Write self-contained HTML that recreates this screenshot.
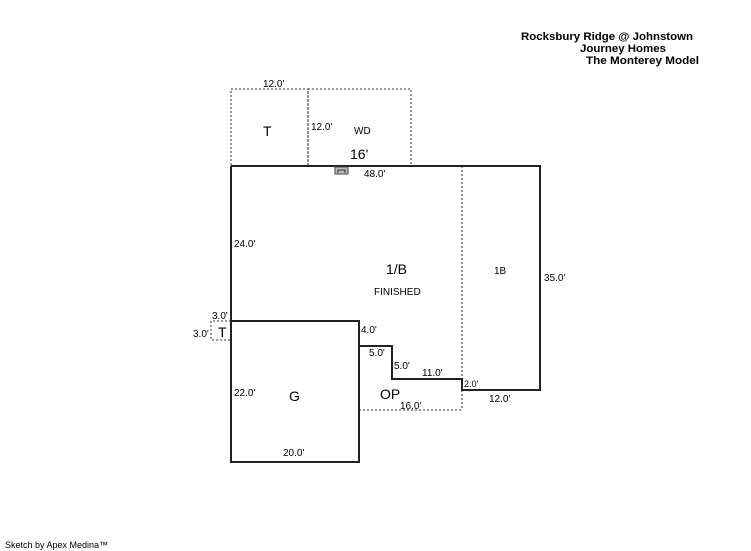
<!DOCTYPE html>
<html><head><style>
body{margin:0;background:#fff;}
svg{display:block;font-family:"Liberation Sans",Arial,sans-serif;}
</style></head><body>
<svg width="751" height="551" viewBox="0 0 751 551" xmlns="http://www.w3.org/2000/svg">
<rect width="751" height="551" fill="#fff"/>
<g fill="none" stroke="#777" stroke-width="1.5" stroke-dasharray="2,2">
<rect x="231" y="89" width="77" height="77"/>
<rect x="308" y="89" width="103" height="77"/>
<line x1="462" y1="166" x2="462" y2="410"/>
<polyline points="359,410 462,410"/>
<polyline points="231,321 211,321 211,340 231,340"/>
</g>
<g fill="none" stroke="#222" stroke-width="2">
<polyline points="231,166 540,166 540,390 462,390 462,379 392,379 392,346 359,346 359,321 231,321 231,166"/>
<rect x="231" y="321" width="128" height="141"/>
</g>
<rect x="335" y="167" width="13" height="7" fill="#bbb" stroke="#444" stroke-width="1"/>
<path d="M338 173 v-3 h7 v3" fill="none" stroke="#333" stroke-width="1"/>
<g font-size="10" fill="#000">
<text x="263" y="87">12.0'</text>
<text x="311" y="130">12.0'</text>
<text x="354" y="134">WD</text>
<text x="364" y="177">48.0'</text>
<text x="234" y="247">24.0'</text>
<text x="374" y="295">FINISHED</text>
<text x="494" y="274">1B</text>
<text x="544" y="281">35.0'</text>
<text x="212" y="319">3.0'</text>
<text x="193" y="337">3.0'</text>
<text x="361" y="333">4.0'</text>
<text x="369" y="356">5.0'</text>
<text x="394" y="369">5.0'</text>
<text x="422" y="376">11.0'</text>
<text x="464" y="387" font-size="9">2.0'</text>
<text x="489" y="402">12.0'</text>
<text x="400" y="409">16.0'</text>
<text x="234" y="396">22.0'</text>
<text x="283" y="456">20.0'</text>
</g>
<g font-size="14" fill="#000">
<text x="263" y="136">T</text>
<text x="350" y="159">16'</text>
<text x="386" y="274">1/B</text>
<text x="218" y="337">T</text>
<text x="289" y="401">G</text>
<text x="380" y="399">OP</text>
</g>
<g font-size="11" font-weight="bold" fill="#000">
<text x="521" y="40" textLength="172" lengthAdjust="spacingAndGlyphs">Rocksbury Ridge @ Johnstown</text>
<text x="580" y="52" textLength="86" lengthAdjust="spacingAndGlyphs">Journey Homes</text>
<text x="586" y="64" textLength="113" lengthAdjust="spacingAndGlyphs">The Monterey Model</text>
</g>
<text x="5" y="548" font-size="9" fill="#000">Sketch by Apex Medina™</text>
</svg>
</body></html>
